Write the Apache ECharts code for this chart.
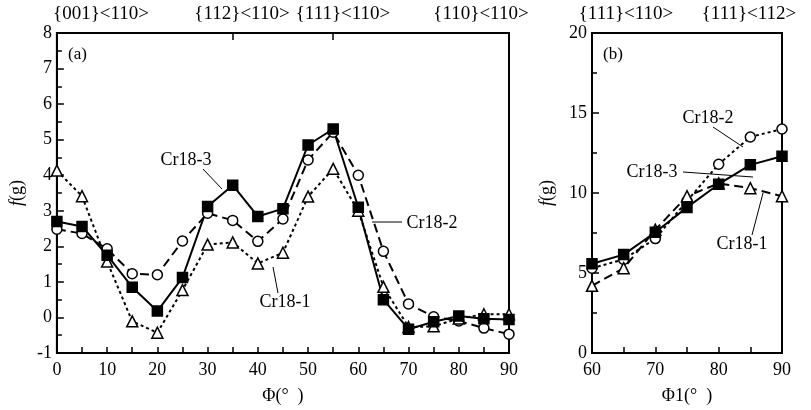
<!DOCTYPE html>
<html><head><meta charset="utf-8">
<script src="https://cdn.jsdelivr.net/npm/echarts@6/dist/echarts.min.js"></script>
<style>html,body{margin:0;padding:0;background:#fff}#c{width:811px;height:410px}</style>
</head><body><div id="c"></div>
<script>
const phiA = [0,5,10,15,20,25,30,35,40,45,50,55,60,65,70,75,80,85,90];
const cr18_3_a = [2.7,2.56,1.75,0.85,0.18,1.12,3.12,3.72,2.84,3.06,4.85,5.3,3.1,0.5,-0.33,-0.12,0.04,-0.04,-0.06];
const cr18_2_a = [2.48,2.36,1.93,1.23,1.2,2.15,2.93,2.73,2.14,2.77,4.43,5.21,4.0,1.86,0.38,0.02,-0.1,-0.3,-0.47];
const cr18_1_a = [4.13,3.41,1.57,-0.11,-0.43,0.77,2.05,2.11,1.52,1.82,3.4,4.18,3.0,0.86,-0.27,-0.25,-0.03,0.09,0.09];
const phiB = [60,65,70,75,80,85,90];
const cr18_3_b = [5.58,6.15,7.55,9.1,10.55,11.76,12.3];
const cr18_2_b = [5.3,5.85,7.15,9.5,11.8,13.5,14.0];
const cr18_1_b = [4.2,5.3,7.7,9.8,10.6,10.3,9.8];
const topLabelsA = ['{001}<110>','{112}<110>','{111}<110>','{110}<110>'];
const topLabelsB = ['{111}<110>','{111}<112>'];

const F = 'Liberation Serif';
const pair = (xs, ys) => xs.map((x,i)=>[x, ys[i]]);
const chart = echarts.init(document.getElementById('c'));
const txt = (text, x, y, size, align) => ({type:'text', style:{text, x, y, font: (size||17)+'px "'+F+'"', fill:'#000', textAlign: align||'center', textVerticalAlign:'middle'}});
const ln = (x1,y1,x2,y2) => ({type:'line', shape:{x1,y1,x2,y2}, style:{stroke:'#000', lineWidth:1}});
const baseX = (gi, min, max) => ({gridIndex:gi, type:'value', min, max, interval:5,
  axisLine:{show:true, onZero:false, lineStyle:{color:'#000', width:2}},
  axisTick:{show:true, inside:true, length:6, lineStyle:{color:'#000', width:1.5}},
  axisLabel:{color:'#000', fontFamily:F, fontSize:18, margin:8, formatter: v => (v%10===0 ? String(v) : '')},
  splitLine:{show:false}});
const nameStyle = {color:'#000', fontFamily:F, fontSize:18};
const series = [];
function mk(name, xi, yi, data, type, symbol, size, fill) {
  return {name, type:'line', xAxisIndex:xi, yAxisIndex:yi, data, symbol, symbolSize:size,
    lineStyle:{color:'#000', width:2, type}, itemStyle:{color:fill, borderColor:'#000', borderWidth:1.5}, z: 3};
}
series.push(mk('Cr18-2', 0, 0, pair(phiA, cr18_2_a), [9,5], 'circle', 10, '#fff'));
series.push(mk('Cr18-1', 0, 0, pair(phiA, cr18_1_a), [3,3], 'triangle', 11, '#fff'));
series.push(mk('Cr18-3', 0, 0, pair(phiA, cr18_3_a), 'solid', 'rect', 10, '#000'));
series.push(mk('Cr18-2', 2, 1, pair(phiB, cr18_2_b), [3,3], 'circle', 10, '#fff'));
series.push(mk('Cr18-1', 2, 1, pair(phiB, cr18_1_b), [9,5], 'triangle', 11, '#fff'));
series.push(mk('Cr18-3', 2, 1, pair(phiB, cr18_3_b), 'solid', 'rect', 10, '#000'));

chart.setOption({
  backgroundColor:'#fff',
  animation:false,
  grid:[
    {left:56, top:33, width:453, height:330, show:true, borderColor:'#000', borderWidth:2, backgroundColor:'transparent'},
    {left:592, top:33, width:190, height:330, show:true, borderColor:'#000', borderWidth:2, backgroundColor:'transparent'}
  ],
  xAxis:[
    Object.assign(baseX(0,0,90), {name:'Φ(°  )', nameLocation:'middle', nameGap:34, nameTextStyle:nameStyle}),
    {gridIndex:0, type:'value', position:'top', min:0, max:90,
      axisLine:{show:true, onZero:false, lineStyle:{color:'#000', width:2}},
      axisTick:{show:true, inside:true, length:7, customValues:[35,55], lineStyle:{color:'#000', width:1.5}},
      axisLabel:{show:false}, splitLine:{show:false}},
    Object.assign(baseX(1,60,90), {name:'Φ1(°  )', nameLocation:'middle', nameGap:34, nameTextStyle:nameStyle})
  ],
  yAxis:[
    {gridIndex:0, type:'value', min:-1, max:8, interval:1,
      axisLine:{show:true, onZero:false, lineStyle:{color:'#000', width:2}},
      axisTick:{show:true, inside:true, length:7, lineStyle:{color:'#000', width:1.5}},
      minorTick:{show:true, splitNumber:2, length:5, lineStyle:{color:'#000', width:1.5}},
      axisLabel:{color:'#000', fontFamily:F, fontSize:18, margin:5},
      splitLine:{show:false}, minorSplitLine:{show:false},
      name:'{i|f}(g)', nameLocation:'middle', nameGap:28, nameRotate:90,
      nameTextStyle:{color:'#000', fontFamily:F, fontSize:18, rich:{i:{fontStyle:'italic', fontFamily:F, fontSize:18, color:'#000'}}}},
    {gridIndex:1, type:'value', min:0, max:20, interval:5,
      axisLine:{show:true, onZero:false, lineStyle:{color:'#000', width:2}},
      axisTick:{show:true, inside:true, length:7, lineStyle:{color:'#000', width:1.5}},
      minorTick:{show:true, splitNumber:2, length:5, lineStyle:{color:'#000', width:1.5}},
      axisLabel:{color:'#000', fontFamily:F, fontSize:18, margin:5},
      splitLine:{show:false}, minorSplitLine:{show:false},
      name:'{i|f}(g)', nameLocation:'middle', nameGap:36, nameRotate:90,
      nameTextStyle:{color:'#000', fontFamily:F, fontSize:18, rich:{i:{fontStyle:'italic', fontFamily:F, fontSize:18, color:'#000'}}}}
  ],
  series,
  graphic:[
    txt(topLabelsA[0], 101, 14, 19), txt(topLabelsA[1], 242, 14, 19), txt(topLabelsA[2], 343, 14, 19), txt(topLabelsA[3], 481, 14, 19),
    txt(topLabelsB[0], 626, 14, 19), txt(topLabelsB[1], 749, 14, 19),
    txt('(a)', 68, 55, 17, 'left'), txt('(b)', 603, 55, 17, 'left'),
    txt('Cr18-3', 186, 160, 18), ln(203,169,222,189),
    txt('Cr18-2', 432, 223, 18), ln(372,222,402,222),
    txt('Cr18-1', 285, 302, 18), ln(273,267,278,293),
    txt('Cr18-2', 708, 118, 18), ln(713,127,743,147),
    txt('Cr18-3', 652, 172, 18), ln(683,172,753,177),
    txt('Cr18-1', 742, 244, 18), ln(752,235,763,193)
  ]
});
</script></body></html>
